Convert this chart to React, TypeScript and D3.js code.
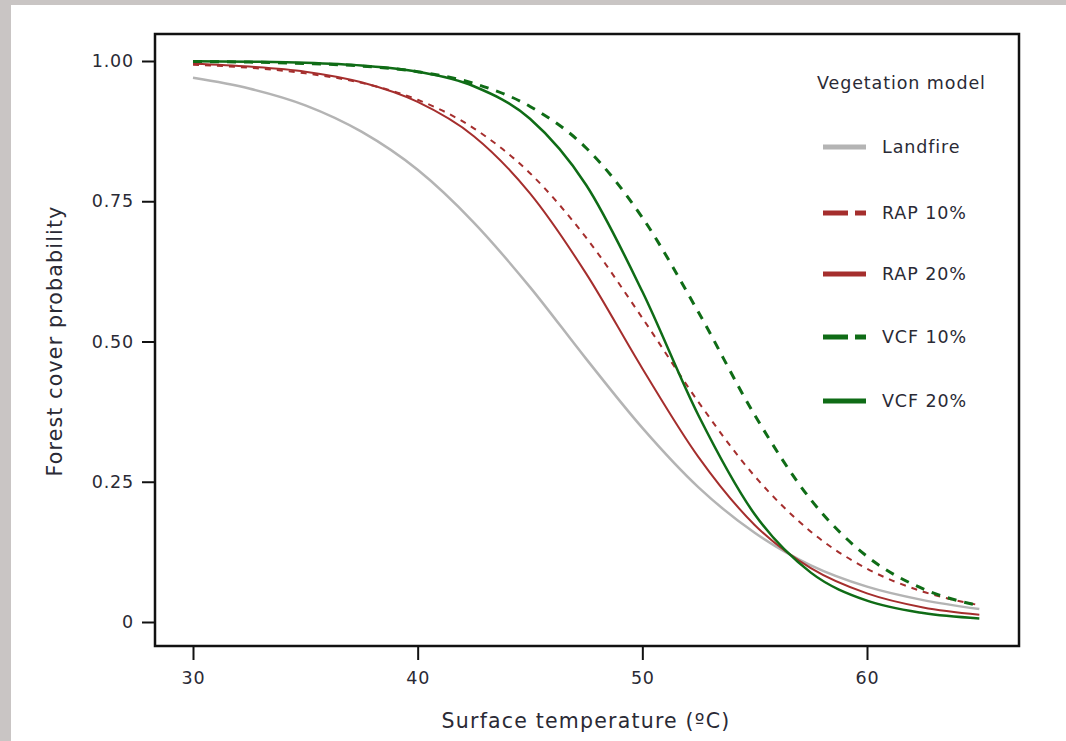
import React, { useRef, useEffect } from "react";
import * as d3 from "d3";

// surface temperature (ºC) sample points
const temps = [30, 32.5, 35, 37.5, 40, 42.5, 45, 47.5, 50, 52.5, 55, 57.5, 60, 62.5, 65];

// forest cover probability
const landfire = [0.97, 0.951, 0.921, 0.874, 0.806, 0.712, 0.597, 0.469, 0.346, 0.24, 0.159, 0.101, 0.063, 0.039, 0.023];
const rap10 = [0.9935, 0.988, 0.978, 0.961, 0.931, 0.88, 0.8, 0.685, 0.542, 0.392, 0.26, 0.161, 0.095, 0.054, 0.03];
const rap20 = [0.995, 0.99, 0.981, 0.962, 0.927, 0.866, 0.764, 0.621, 0.452, 0.294, 0.173, 0.096, 0.051, 0.026, 0.013];
const vcf10 = [0.999, 0.998, 0.9955, 0.991, 0.981, 0.96, 0.919, 0.845, 0.721, 0.552, 0.369, 0.218, 0.117, 0.059, 0.029];
const vcf20 = [0.9995, 0.9987, 0.9969, 0.992, 0.981, 0.955, 0.897, 0.779, 0.589, 0.368, 0.192, 0.088, 0.038, 0.016, 0.0064];

const xTicks = [30, 40, 50, 60];
const yTicks = [0, 0.25, 0.5, 0.75, 1];
const yTickLabels = ["0", "0.25", "0.50", "0.75", "1.00"];

const RED = "#a52e2d";
const GREEN = "#0f6c16";
const GREY = "#b4b4b4";

const series = [
  { name: "Landfire", values: landfire, color: GREY, width: 2.5, dash: null },
  { name: "RAP 10%", values: rap10, color: RED, width: 2, dash: "6,6" },
  { name: "RAP 20%", values: rap20, color: RED, width: 2, dash: null },
  { name: "VCF 10%", values: vcf10, color: GREEN, width: 3, dash: "9,8" },
  { name: "VCF 20%", values: vcf20, color: GREEN, width: 2.5, dash: null },
];

const FONT = "'DejaVu Sans', sans-serif";
const TEXT = "#2a2a35";

export default function App() {
  const xAxisRef = useRef<SVGGElement>(null);
  const yAxisRef = useRef<SVGGElement>(null);

  const x = d3.scaleLinear().domain([30, 60]).range([193, 867]);
  const y = d3.scaleLinear().domain([0, 1]).range([622, 61]);

  const line = d3
    .line<number>()
    .x((d, i) => x(temps[i]))
    .y((d) => y(d))
    .curve(d3.curveMonotoneX);

  useEffect(() => {
    document.body.style.margin = "0";
    const xa = d3.select(xAxisRef.current);
    xa.selectAll("*").remove();
    xa.call(
      d3.axisBottom(x).tickValues(xTicks).tickSize(14).tickPadding(12).tickFormat(d3.format("d"))
    );
    xa.select(".domain").remove();
    xa.selectAll("line").attr("stroke", "#111").attr("stroke-width", 2);
    xa.selectAll("text")
      .attr("font-family", FONT)
      .attr("font-size", 17.5)
      .attr("letter-spacing", 0.8)
      .attr("fill", TEXT);

    const ya = d3.select(yAxisRef.current);
    ya.selectAll("*").remove();
    ya.call(
      d3
        .axisLeft(y)
        .tickValues(yTicks)
        .tickSize(13)
        .tickPadding(8)
        .tickFormat((d, i) => yTickLabels[i])
    );
    ya.select(".domain").remove();
    ya.selectAll("line").attr("stroke", "#111").attr("stroke-width", 2);
    ya.selectAll("text")
      .attr("font-family", FONT)
      .attr("font-size", 17.5)
      .attr("letter-spacing", 0.8)
      .attr("fill", TEXT);
  }, []);

  const legendX = 823;
  const legendY = [147, 213, 274, 337, 401];

  return (
    <svg width={1066} height={741} style={{ display: "block" }}>
      <rect x={0} y={0} width={1066} height={741} fill="#c9c5c4" />
      <rect x={11} y={5} width={1055} height={736} fill="#ffffff" />

      <g ref={xAxisRef} transform="translate(0,646)" />
      <g ref={yAxisRef} transform="translate(155,0)" />

      {series.map((s) => (
        <path
          key={s.name}
          d={line(s.values) || ""}
          fill="none"
          stroke={s.color}
          strokeWidth={s.width}
          strokeDasharray={s.dash || undefined}
        />
      ))}

      <rect x={155} y={34} width={864} height={612} fill="none" stroke="#111" strokeWidth={2.5} />

      <text x={817} y={89} fontFamily={FONT} fontSize={17.5} letterSpacing={0.9} fill={TEXT}>
        Vegetation model
      </text>
      {series.map((s, i) => (
        <g key={s.name} transform={`translate(0,${legendY[i]})`}>
          {s.dash ? (
            <>
              <line x1={legendX} x2={legendX + 25} y1={0} y2={0} stroke={s.color} strokeWidth={5} />
              <line x1={legendX + 32} x2={legendX + 43} y1={0} y2={0} stroke={s.color} strokeWidth={5} />
            </>
          ) : (
            <line x1={legendX} x2={legendX + 43} y1={0} y2={0} stroke={s.color} strokeWidth={5} />
          )}
          <text x={882} y={6} fontFamily={FONT} fontSize={17.5} letterSpacing={0.9} fill={TEXT}>
            {s.name}
          </text>
        </g>
      ))}

      <text
        x={586}
        y={728}
        textAnchor="middle"
        fontFamily={FONT}
        fontSize={20.5}
        letterSpacing={1.2}
        fill={TEXT}
      >
        Surface temperature (ºC)
      </text>
      <text
        transform="translate(62,341) rotate(-90)"
        textAnchor="middle"
        fontFamily={FONT}
        fontSize={20.5}
        letterSpacing={1.2}
        fill={TEXT}
      >
        Forest cover probability
      </text>
    </svg>
  );
}
